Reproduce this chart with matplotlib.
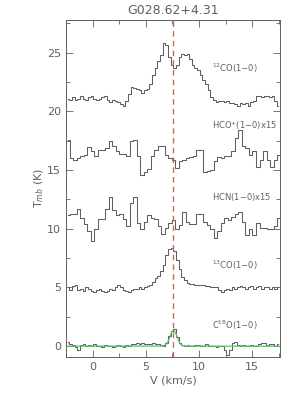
import matplotlib
matplotlib.use('Agg')
import matplotlib.pyplot as plt
import numpy as np

# velocity grids (km/s)
v_co = -2.3 + 0.25 * np.arange(80)
v_dense = -2.3 + 0.33 * np.arange(61)

co12 = [21.1, 21.0, 21.2, 21.0, 21.1, 21.3, 21.1, 21.0, 21.2, 21.3,
        21.1, 21.0, 21.1, 21.2, 21.3, 21.0, 20.8, 21.0, 20.9, 20.8,
        20.6, 20.5, 20.9, 21.5, 22.1, 22.0, 21.9, 21.8, 21.6, 21.8,
        21.9, 22.3, 23.1, 23.7, 24.3, 24.8, 25.8, 25.7, 24.6, 24.0,
        23.7, 24.0, 24.6, 24.9, 24.8, 24.9, 24.5, 24.0, 23.7, 23.5,
        23.1, 22.7, 22.3, 21.8, 21.2, 21.0, 20.8, 20.9, 20.9, 20.8,
        20.9, 20.7, 20.7, 20.6, 20.5, 20.7, 20.6, 20.7, 20.5, 20.8,
        20.9, 21.3, 21.3, 21.2, 21.3, 21.3, 21.2, 21.3, 20.9, 20.5]

co13 = [5.0, 4.8, 5.1, 5.2, 4.8, 4.9, 4.7, 5.0, 4.9, 4.7,
        4.6, 4.8, 4.9, 4.7, 4.6, 4.7, 4.9, 4.8, 5.0, 5.2,
        5.0, 4.8, 4.7, 4.6, 4.8, 4.9, 4.9, 5.0, 4.9, 5.0,
        5.1, 5.2, 5.5, 5.8, 6.0, 6.4, 6.9, 7.8, 8.3, 8.4,
        8.1, 7.3, 6.6, 5.9, 5.6, 5.4, 5.3, 5.3, 5.2, 5.2,
        5.2, 5.2, 5.1, 5.1, 5.0, 5.0, 5.0, 4.8, 4.6, 4.8,
        4.9, 4.8, 5.0, 4.9, 5.0, 5.1, 5.0, 4.9, 5.0, 5.1,
        4.9, 5.0, 5.1, 4.9, 5.0, 5.0, 4.9, 5.0, 4.9, 5.0]

c18o = [0.35, 0.2, 0.1, -0.1, -0.35, 0.1, 0.15, 0.0, 0.1, 0.05,
        0.15, 0.0, 0.05, -0.05, 0.1, 0.0, 0.05, -0.1, 0.05, 0.1,
        0.0, -0.05, 0.1, 0.0, 0.15, 0.2, 0.25, 0.2, 0.3, 0.2,
        0.15, 0.2, 0.25, 0.15, 0.2, 0.1, 0.0, 0.3, 0.85, 1.3,
        1.45, 0.8, 0.3, 0.1, 0.05, 0.1, 0.0, 0.05, 0.1, 0.1,
        0.0, 0.05, 0.15, 0.05, 0.0, 0.0, -0.05, 0.05, 0.0, -0.3,
        -0.75, -0.35, 0.3, 0.35, 0.1, 0.05, 0.1, 0.0, 0.05, 0.1,
        0.0, 0.05, 0.2, 0.3, 0.25, 0.1, 0.15, 0.2, 0.05, 0.15]

hcop = [17.6, 16.0, 15.9, 16.0, 16.2, 16.3, 17.0, 16.6, 16.2, 16.7,
        16.7, 16.85, 17.5, 17.1, 16.6, 16.4, 16.4, 16.2, 17.5, 17.6,
        16.2, 14.6, 14.85, 15.1, 16.2, 16.7, 17.1, 17.1, 16.3, 16.0,
        15.85, 15.2, 15.8, 15.9, 16.0, 16.1, 16.2, 16.7, 16.7, 14.85,
        14.9, 15.0, 15.8, 16.1, 16.0, 16.2, 16.2, 16.6, 17.7, 18.4,
        17.1, 16.85, 16.3, 16.6, 15.3, 15.9, 16.6, 15.9, 15.3, 15.9,
        16.3]

hcn = [11.2, 11.3, 11.3, 11.7, 10.9, 10.4, 9.8, 9.0, 9.95, 10.8,
       10.8, 11.7, 12.7, 11.6, 11.2, 11.3, 10.8, 10.2, 12.2, 12.7,
       10.5, 9.95, 10.6, 11.2, 10.9, 10.8, 10.2, 9.6, 10.1, 10.5,
       10.75, 10.0, 10.3, 11.45, 10.6, 10.45, 10.45, 11.3, 11.3, 10.6,
       10.3, 9.95, 9.2, 9.8, 10.46, 10.9, 10.75, 11.0, 11.3, 11.45,
       10.6, 9.45, 9.95, 9.5, 10.46, 10.1, 10.1, 9.95, 9.95, 10.2,
       10.9]

# gaussian fit to C18O: amplitude, centre, sigma
fit_amp, fit_v0, fit_sig = 1.35, 7.6, 0.33
v_sys = 7.6

labels = ['$^{12}$CO(1$-$0)', 'HCO$^{+}$(1$-$0)x15', 'HCN(1$-$0)x15',
          '$^{13}$CO(1$-$0)', 'C$^{18}$O(1$-$0)']
label_y = [23.7, 18.75, 12.7, 6.9, 1.8]

gray = '#606060'
fig = plt.figure(figsize=(3.0, 3.99), dpi=100)
ax = fig.add_axes([0.22, 0.106, 0.713, 0.844])

ax.plot(v_co, co12, drawstyle='steps-mid', color=gray, lw=0.75)
ax.plot(v_dense, hcop, drawstyle='steps-mid', color=gray, lw=0.75)
ax.plot(v_dense, hcn, drawstyle='steps-mid', color=gray, lw=0.75)
ax.plot(v_co, co13, drawstyle='steps-mid', color=gray, lw=0.75)
ax.plot(v_co, c18o, drawstyle='steps-mid', color=gray, lw=0.75)

vfit = np.linspace(-2.4, 17.6, 400)
ax.plot(vfit, fit_amp * np.exp(-0.5 * ((vfit - fit_v0) / fit_sig) ** 2),
        color='#5cbf6a', lw=0.9)

ax.axvline(v_sys, color='#d9663a', lw=1.0, dashes=(4, 3))

for lab, y in zip(labels, label_y):
    ax.text(11.2, y, lab, fontsize=6, color=gray, va='center', ha='left')

ax.set_xlim(-2.4, 17.6)
ax.set_ylim(-0.9, 27.8)
ax.set_xticks([0, 5, 10, 15])
ax.set_xticks(np.arange(-2.5, 17.6, 2.5), minor=True)
ax.set_yticks([0, 5, 10, 15, 20, 25])
ax.set_yticks(np.arange(0, 27.6, 2.5), minor=True)
ax.tick_params(which='both', direction='in', top=True, right=True,
               colors=gray, labelsize=8, width=0.6)
ax.tick_params(which='major', length=5)
ax.tick_params(which='minor', length=3)
for s in ax.spines.values():
    s.set_color(gray)
    s.set_linewidth(0.7)

ax.set_xlabel('V (km/s)', color=gray, fontsize=8, labelpad=3)
ax.set_ylabel('T$_{mb}$ (K)', color=gray, fontsize=8, labelpad=1)
ax.set_title('G028.62+4.31', color=gray, fontsize=9, pad=4)

fig.savefig('out.png', dpi=100)
